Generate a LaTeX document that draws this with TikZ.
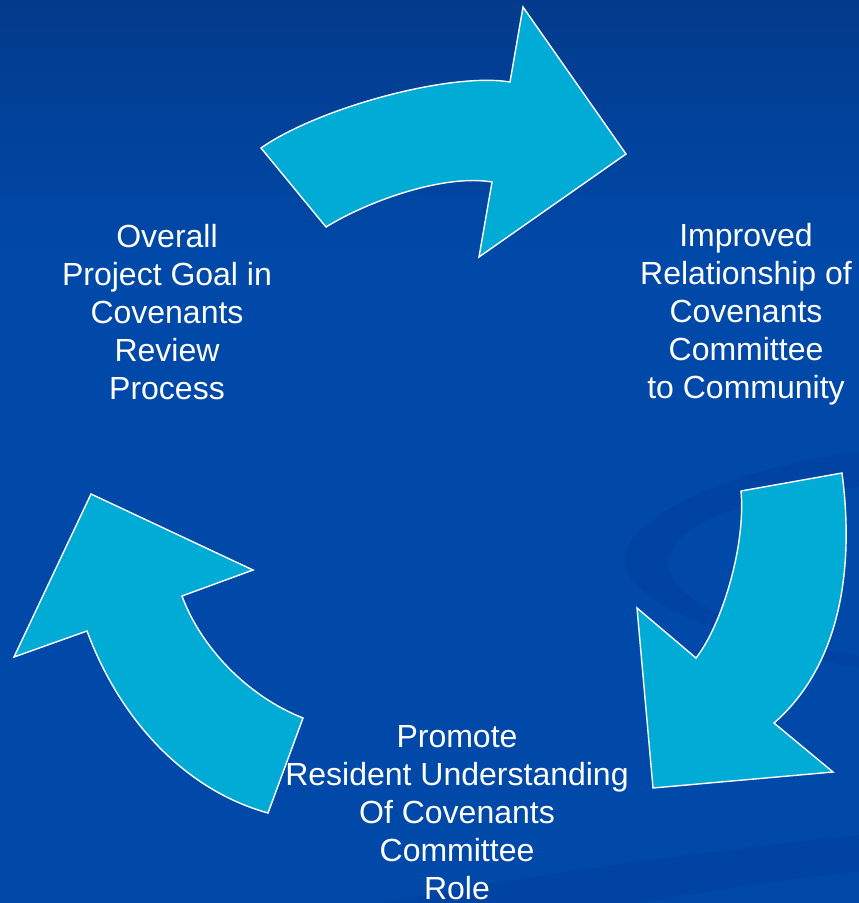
\documentclass[tikz,border=0pt]{standalone}
\usepackage{fontspec}
\setmainfont{Liberation Sans}
\definecolor{bgtop}{HTML}{033B8C}
\definecolor{bgmain}{HTML}{0049A9}
\definecolor{swoosh}{HTML}{0043A2}
\definecolor{arrowfill}{HTML}{00ACD6}
\begin{document}
\begin{tikzpicture}[x=1pt,y=-1pt,
  cyclearrow/.style={fill=arrowfill,draw=white,line width=1.4pt,line join=miter},
  label/.style={text=white,align=center,inner sep=0pt,anchor=north,
    font=\fontsize{32}{38}\selectfont}]
\useasboundingbox (0,0) rectangle (859,903);
% background
\fill[bgmain] (0,0) rectangle (859,903);
\shade[top color=bgtop,bottom color=bgmain] (0,0) rectangle (859,260);
% background swooshes
\fill[swoosh] (859,452) .. controls (720,470) and (625,520) .. (625,560)
  .. controls (625,600) and (720,640) .. (859,668) -- (859,656)
  .. controls (760,640) and (668,600) .. (668,565)
  .. controls (668,520) and (760,495) .. (859,487) -- cycle;
\fill[swoosh] (380,903) .. controls (560,870) and (720,850) .. (859,835) -- (859,872)
  .. controls (780,880) and (700,892) .. (640,903) -- cycle;
% arrows
\draw[cyclearrow] (261,148) -- (326,227) .. controls (370,200) and (445,174) .. (492,182)
  -- (479,257) -- (626,154) -- (523,7) -- (510,82)
  .. controls (450,72) and (318,108) .. (261,148) -- cycle;
\draw[cyclearrow] (741,491) -- (842,473) .. controls (856,580) and (835,670) .. (774,723)
  -- (833,772) -- (653,788) -- (637,608) -- (696,658)
  .. controls (722,625) and (746,545) .. (741,491) -- cycle;
\draw[cyclearrow] (14,657) -- (91,494) -- (253,570) -- (182,596)
  .. controls (200,645) and (245,695) .. (303,718) -- (268,813)
  .. controls (185,790) and (120,720) .. (87,631) -- cycle;
% labels
\node[label] (goal) at (167,224.5) {Overall\\Project Goal in\\Covenants\\Review\\Process};
\node[label] (rel) at (746,223.5) {Improved\\Relationship of\\Covenants\\Committee\\to Community};
\node[label] (promote) at (457,725.5) {Promote\\Resident Understanding\\Of Covenants\\Committee\\Role};
\end{tikzpicture}
\end{document}
